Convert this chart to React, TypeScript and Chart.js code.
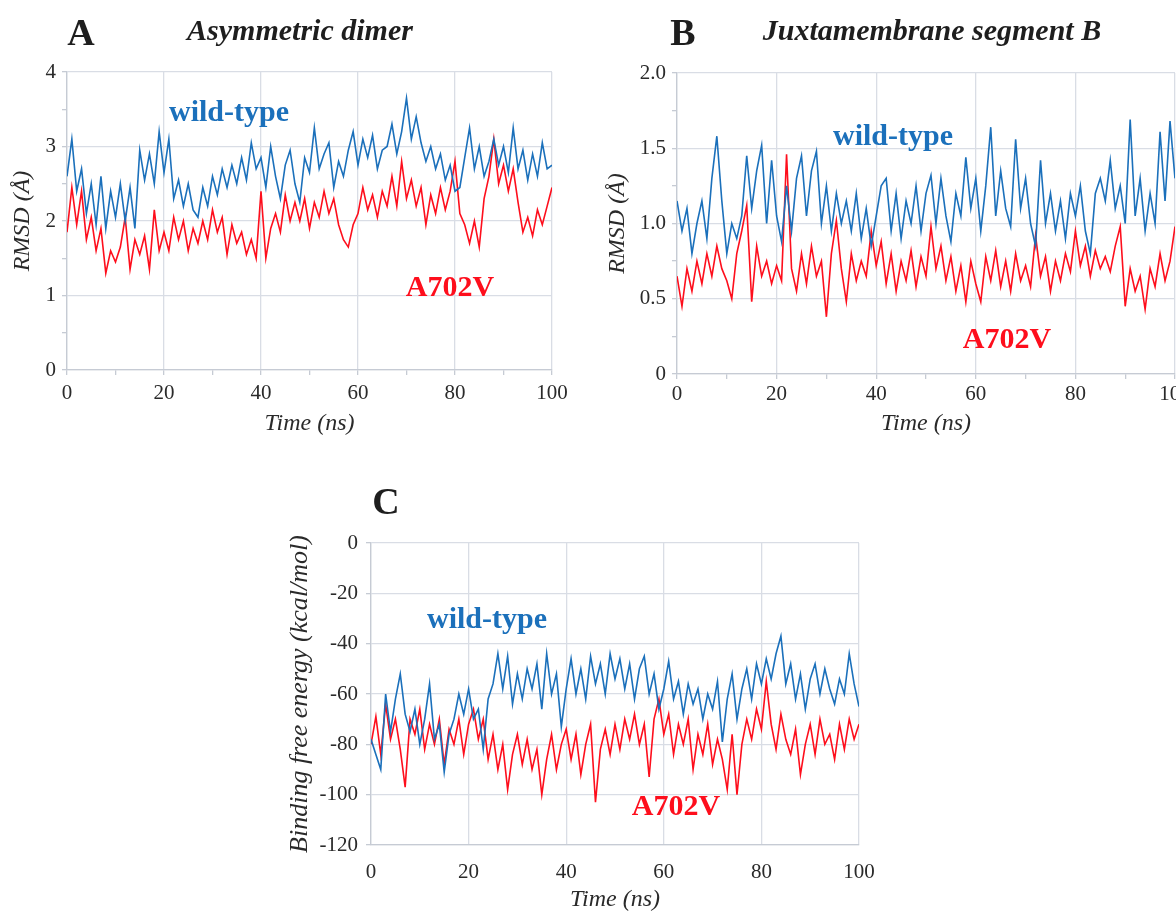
import React, { useEffect, useRef } from 'react';
import { Chart, registerables } from 'chart.js';

Chart.register(...registerables);

// ---------- DATA ----------
const TIME_NS: number[] = Array.from({ length: 101 }, (_, i) => i);
const X_TICK_LABELS = ['0', '20', '40', '60', '80', '100'];

// Panel A: Asymmetric dimer RMSD (Å)
const A_WILD_TYPE = [
  2.6, 3.1, 2.4, 2.7, 2.1, 2.5, 1.95, 2.6, 1.9, 2.4,
  2.05, 2.5, 2.0, 2.45, 1.9, 2.95, 2.55, 2.9, 2.5, 3.2,
  2.65, 3.1, 2.3, 2.55, 2.2, 2.5, 2.15, 2.05, 2.45, 2.2,
  2.6, 2.35, 2.7, 2.45, 2.75, 2.5, 2.85, 2.55, 3.05, 2.7,
  2.85, 2.45, 3.0, 2.6, 2.3, 2.75, 2.95, 2.5, 2.25, 2.85,
  2.65, 3.25, 2.7, 2.9, 3.05, 2.45, 2.8, 2.6, 2.95, 3.2,
  2.75, 3.1, 2.85, 3.15, 2.7, 2.95, 3.0, 3.3, 2.9, 3.2,
  3.65, 3.1, 3.4, 3.05, 2.8, 3.0, 2.7, 2.9, 2.55, 2.75,
  2.4, 2.45, 2.85, 3.25, 2.7, 3.0, 2.6, 2.8, 3.1, 2.75,
  3.0, 2.65, 3.25, 2.7, 2.95, 2.55, 2.9, 2.6, 3.05, 2.7,
  2.75,
];
const A_A702V = [
  1.85, 2.45, 1.95, 2.4, 1.75, 2.05, 1.6, 1.9, 1.3, 1.6,
  1.45, 1.65, 2.05, 1.35, 1.75, 1.55, 1.8, 1.35, 2.15, 1.6,
  1.85, 1.6, 2.05, 1.75, 2.0, 1.6, 1.9, 1.7, 2.0, 1.75,
  2.15, 1.85, 2.05, 1.55, 1.95, 1.7, 1.85, 1.55, 1.75, 1.5,
  2.4, 1.5, 1.9, 2.1, 1.85, 2.35, 2.0, 2.25, 2.0, 2.3,
  1.9, 2.25, 2.05, 2.4, 2.1, 2.3, 1.95, 1.75, 1.65, 1.95,
  2.1, 2.45, 2.15, 2.35, 2.05, 2.4, 2.2, 2.6, 2.2, 2.8,
  2.3, 2.55, 2.2, 2.45, 1.95, 2.35, 2.1, 2.45, 2.15, 2.4,
  2.8, 2.1, 1.95, 1.7, 2.0, 1.65, 2.3, 2.6, 3.1, 2.5,
  2.75, 2.4, 2.7, 2.25, 1.85, 2.05, 1.8, 2.15, 1.95, 2.2,
  2.45,
];

// Panel B: Juxtamembrane segment B RMSD (Å)
const B_WILD_TYPE = [
  1.15, 0.95, 1.1, 0.8, 1.0, 1.15, 0.9, 1.3, 1.58, 1.15,
  0.8, 1.0, 0.9, 1.05, 1.45, 1.1, 1.35, 1.52, 1.0, 1.42,
  1.05, 0.88, 1.25, 0.95, 1.3, 1.45, 1.05, 1.35, 1.48, 1.0,
  1.25, 0.95, 1.2, 1.0, 1.15, 0.95, 1.2, 0.9, 1.1, 0.85,
  1.05, 1.25, 1.3, 0.95, 1.2, 0.9, 1.15, 1.0, 1.25, 0.95,
  1.2, 1.32, 1.0, 1.3, 1.05, 0.88, 1.2, 1.05, 1.44, 1.1,
  1.3, 0.95, 1.25, 1.64, 1.05, 1.35, 1.1, 0.98, 1.56, 1.1,
  1.3, 1.0, 0.85, 1.42, 1.0, 1.2, 0.95, 1.15, 0.9, 1.2,
  1.05, 1.25, 0.95, 0.8, 1.2, 1.3, 1.15, 1.42, 1.1, 1.25,
  1.0, 1.69, 1.05, 1.3, 0.95, 1.2, 1.0, 1.61, 1.15, 1.68,
  1.3,
];
const B_A702V = [
  0.65, 0.45, 0.7, 0.55, 0.75, 0.6, 0.8, 0.65, 0.85, 0.7,
  0.62, 0.5, 0.8, 0.95, 1.12, 0.48, 0.85, 0.65, 0.75, 0.6,
  0.72, 0.62, 1.46, 0.7, 0.55, 0.8, 0.6, 0.85, 0.65, 0.75,
  0.38, 0.8, 1.02, 0.7, 0.48, 0.8, 0.62, 0.75, 0.65, 0.95,
  0.72, 0.88, 0.6, 0.8, 0.55, 0.75, 0.62, 0.82, 0.58, 0.78,
  0.65, 0.98, 0.7, 0.85, 0.62, 0.78, 0.55, 0.72, 0.48, 0.75,
  0.6, 0.48, 0.78, 0.62, 0.82, 0.58, 0.75, 0.55, 0.8, 0.62,
  0.72, 0.58, 0.92, 0.65, 0.78, 0.55, 0.75, 0.62, 0.8, 0.68,
  0.95, 0.72, 0.85, 0.65, 0.82, 0.7, 0.78, 0.68, 0.85, 0.98,
  0.45, 0.7, 0.55, 0.65, 0.43, 0.7, 0.58, 0.8, 0.62, 0.75,
  0.98,
];

// Panel C: Binding free energy (kcal/mol)
const C_WILD_TYPE = [
  -78, -84, -90, -60, -75, -62, -52, -68, -75, -66,
  -80, -70, -56, -78, -72, -91, -76, -70, -60, -68,
  -58, -70, -66, -82, -62, -56, -44, -58, -45, -64,
  -52, -62, -50, -58, -48, -66, -44, -60, -52, -73,
  -58, -46, -60, -50, -62, -45, -56, -48, -60, -44,
  -54, -46, -58, -48, -62, -50, -45, -60, -52, -66,
  -58, -47, -62, -55, -68, -56, -64, -58, -70, -60,
  -66, -55, -79, -62, -52, -70, -58, -50, -62, -48,
  -56, -46, -54, -44, -37, -56, -48, -62, -52, -66,
  -54, -48, -60, -50, -58, -64, -54, -60, -44, -56,
  -65,
];
const C_A702V = [
  -80, -69, -84, -64, -78, -70, -82, -97, -70, -76,
  -66, -82, -72, -80, -70, -88, -74, -80, -70, -84,
  -72, -66, -78, -70, -86, -76, -90, -80, -98, -84,
  -76, -88, -78, -90, -82, -100, -86, -76, -90, -80,
  -74, -86, -76, -92, -80, -72, -103, -82, -74, -84,
  -72, -82, -70, -78, -68, -80, -72, -93, -70, -62,
  -76, -68, -84, -72, -80, -70, -90, -76, -84, -72,
  -88, -78, -86, -98, -76, -100, -80, -70, -78, -66,
  -74, -55, -72, -82, -68, -78, -84, -74, -92, -80,
  -72, -84, -70, -80, -76, -86, -72, -82, -70, -78,
  -72,
];

// ---------- STYLE ----------
const SERIF = "'Liberation Serif', 'Times New Roman', Times, serif";
const BLUE = '#1b70bb';
const RED = '#fe0e1c';
const GRID = '#d9dde5';
const AXIS = '#c6cbd4';
const TEXT = '#2a2a2a';
const TICK_FONT = 21;

type PanelSpec = {
  blue: number[];
  red: number[];
  yMin: number;
  yMax: number;
  yStep: number;
  yGridEvery: number;
  yFormat: (v: number) => string;
  yTitle: string;
  yTitleSize: number;
  yTitlePad: number;
  yTickPad: number;
  yAxisWidth: number;
  xStep: number;
  xTickLen: number;
  xTickPad: number;
  xAxisHeight: number;
  padding: { top: number; right: number; left: number; bottom: number };
};

const isMultiple = (v: number, m: number) => Math.abs(v / m - Math.round(v / m)) < 1e-6;

function makeConfig(p: PanelSpec): any {
  const toPoints = (arr: number[]) => arr.map((y, i) => ({ x: TIME_NS[i], y }));
  return {
    type: 'line',
    data: {
      datasets: [
        {
          label: 'wild-type',
          data: toPoints(p.blue),
          borderColor: BLUE,
          borderWidth: 1.6,
          pointRadius: 0,
          tension: 0,
          fill: false,
        },
        {
          label: 'A702V',
          data: toPoints(p.red),
          borderColor: RED,
          borderWidth: 1.6,
          pointRadius: 0,
          tension: 0,
          fill: false,
        },
      ],
    },
    options: {
      responsive: false,
      animation: false,
      layout: { padding: p.padding },
      plugins: { legend: { display: false }, tooltip: { enabled: false }, title: { display: false } },
      scales: {
        x: {
          type: 'linear',
          min: 0,
          max: 100,
          ticks: {
            stepSize: p.xStep,
            autoSkip: false,
            maxRotation: 0,
            padding: p.xTickPad,
            color: TEXT,
            font: { family: SERIF, size: TICK_FONT },
            callback: (v: number) => {
              const s = String(Math.round(v));
              return isMultiple(v, 20) && X_TICK_LABELS.includes(s) ? s : '';
            },
          },
          grid: {
            color: (ctx: any) => (ctx.tick && isMultiple(ctx.tick.value, 20) ? GRID : 'rgba(0,0,0,0)'),
            tickColor: AXIS,
            tickLength: p.xTickLen,
            drawTicks: p.xTickLen > 0,
            lineWidth: 1.3,
          },
          border: { color: AXIS, width: 1.3 },
          title: {
            display: true,
            text: 'Time (ns)',
            color: TEXT,
            font: { family: SERIF, size: 24, style: 'italic' },
            padding: { top: 2, bottom: 2 },
          },
          afterFit: (s: any) => {
            s.height = p.xAxisHeight;
          },
        },
        y: {
          type: 'linear',
          min: p.yMin,
          max: p.yMax,
          ticks: {
            stepSize: p.yStep,
            autoSkip: false,
            padding: p.yTickPad,
            color: TEXT,
            font: { family: SERIF, size: TICK_FONT },
            callback: (v: number) => (isMultiple(v, p.yGridEvery) ? p.yFormat(v) : ''),
          },
          grid: {
            color: (ctx: any) => (ctx.tick && isMultiple(ctx.tick.value, p.yGridEvery) ? GRID : 'rgba(0,0,0,0)'),
            tickColor: AXIS,
            tickLength: 5,
            lineWidth: 1.3,
          },
          border: { color: AXIS, width: 1.3 },
          title: {
            display: true,
            text: p.yTitle,
            color: TEXT,
            font: { family: SERIF, size: p.yTitleSize, style: 'italic' },
            padding: { top: p.yTitlePad, bottom: 0 },
          },
          afterFit: (s: any) => {
            s.width = p.yAxisWidth;
          },
        },
      },
    },
  };
}

function ChartCanvas(props: { left: number; top: number; width: number; height: number; spec: PanelSpec }) {
  const ref = useRef<HTMLCanvasElement | null>(null);
  useEffect(() => {
    if (!ref.current) return;
    const chart = new Chart(ref.current, makeConfig(props.spec));
    return () => chart.destroy();
  }, []);
  return (
    <canvas
      ref={ref}
      width={props.width}
      height={props.height}
      style={{ position: 'absolute', left: props.left, top: props.top, width: props.width, height: props.height }}
    />
  );
}

function Label(props: {
  x: number;
  y: number;
  text: string;
  size: number;
  color?: string;
  italic?: boolean;
}) {
  return (
    <div
      style={{
        position: 'absolute',
        left: props.x,
        top: props.y,
        transform: 'translate(-50%, -50%)',
        whiteSpace: 'nowrap',
        fontFamily: SERIF,
        fontWeight: 'bold',
        fontStyle: props.italic ? 'italic' : 'normal',
        fontSize: props.size,
        lineHeight: 1,
        color: props.color || '#1e1e1e',
      }}
    >
      {props.text}
    </div>
  );
}

const SPEC_A: PanelSpec = {
  blue: A_WILD_TYPE,
  red: A_A702V,
  yMin: 0,
  yMax: 4,
  yStep: 0.5,
  yGridEvery: 1,
  yFormat: (v) => String(Math.round(v)),
  yTitle: 'RMSD (Å)',
  yTitleSize: 24,
  yTitlePad: 8,
  yTickPad: 6,
  yAxisWidth: 67,
  xStep: 10,
  xTickLen: 5,
  xTickPad: 6,
  xAxisHeight: 70,
  padding: { top: 72, right: 48, left: 0, bottom: 0 },
};

const SPEC_B: PanelSpec = {
  blue: B_WILD_TYPE,
  red: B_A702V,
  yMin: 0,
  yMax: 2,
  yStep: 0.25,
  yGridEvery: 0.5,
  yFormat: (v) => (Math.abs(v) < 1e-9 ? '0' : v.toFixed(1)),
  yTitle: 'RMSD (Å)',
  yTitleSize: 24,
  yTitlePad: 3,
  yTickPad: 6,
  yAxisWidth: 77,
  xStep: 10,
  xTickLen: 5,
  xTickPad: 3,
  xAxisHeight: 66,
  padding: { top: 73, right: 65, left: 0, bottom: 0 },
};

const SPEC_C: PanelSpec = {
  blue: C_WILD_TYPE,
  red: C_A702V,
  yMin: -120,
  yMax: 0,
  yStep: 20,
  yGridEvery: 20,
  yFormat: (v) => String(Math.round(v)),
  yTitle: 'Binding free energy (kcal/mol)',
  yTitleSize: 26,
  yTitlePad: 5,
  yTickPad: 8,
  yAxisWidth: 91,
  xStep: 20,
  xTickLen: 0,
  xTickPad: 15,
  xAxisHeight: 71,
  padding: { top: 43, right: 41, left: 0, bottom: 0 },
};

export default function App() {
  return (
    <div
      style={{
        position: 'fixed',
        left: 0,
        top: 0,
        width: 1176,
        height: 912,
        overflow: 'hidden',
        background: '#ffffff',
      }}
    >
      <ChartCanvas left={0} top={0} width={600} height={440} spec={SPEC_A} />
      <ChartCanvas left={600} top={0} width={640} height={440} spec={SPEC_B} />
      <ChartCanvas left={280} top={500} width={620} height={416} spec={SPEC_C} />

      <Label x={81} y={32} text="A" size={38} />
      <Label x={300} y={30} text="Asymmetric dimer" size={30} italic />
      <Label x={683} y={32} text="B" size={38} />
      <Label x={932} y={30} text="Juxtamembrane segment B" size={30} italic />
      <Label x={386} y={501} text="C" size={38} />

      <Label x={229} y={111} text="wild-type" size={30} color={BLUE} />
      <Label x={450} y={286} text="A702V" size={30} color={RED} />
      <Label x={893} y={135} text="wild-type" size={30} color={BLUE} />
      <Label x={1007} y={338} text="A702V" size={30} color={RED} />
      <Label x={487} y={618} text="wild-type" size={30} color={BLUE} />
      <Label x={676} y={805} text="A702V" size={30} color={RED} />
    </div>
  );
}
